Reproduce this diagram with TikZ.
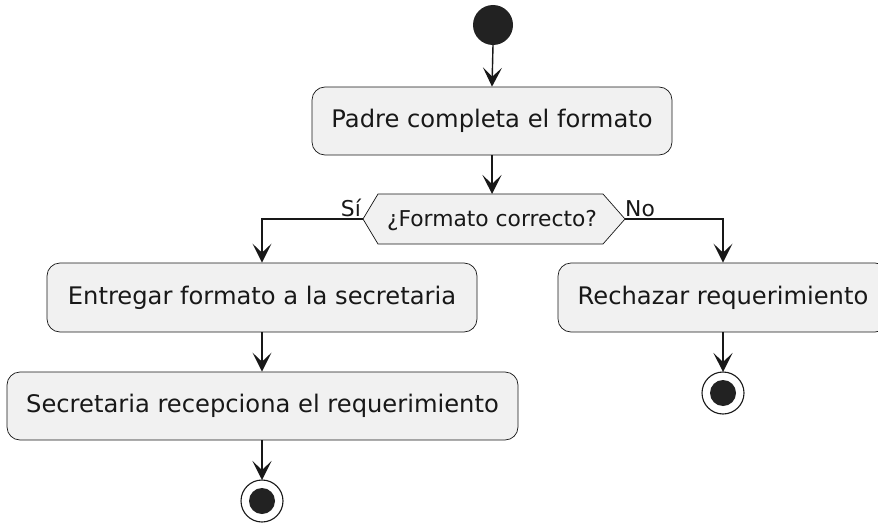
\documentclass[tikz,border=0pt]{standalone}
\usepackage{fontspec}
\setmainfont{DejaVu Sans}
\usetikzlibrary{arrows.meta}
\definecolor{boxfill}{HTML}{F1F1F1}
\definecolor{ln}{HTML}{181818}
\definecolor{dot}{HTML}{222222}
\begin{document}
\begin{tikzpicture}[x=1pt,y=-1pt,
  act/.style={draw=ln, fill=boxfill, rounded corners=13pt, line width=0.7pt,
    minimum height=68pt, inner sep=0pt, text=ln, font=\fontsize{24.2}{29}\selectfont},
  flow/.style={draw=ln, line width=1.4pt, -{Stealth[length=19pt,width=19pt,inset=9pt]}},
  lbl/.style={text=ln, inner sep=0pt, font=\fontsize{21.8}{26}\selectfont}]
\useasboundingbox (0,0) rectangle (878,527);
% start
\fill[dot] (493,25) circle (20pt);
\coordinate (st) at (493,45);
% activities
\node[act, minimum width=360pt] (a1) at (492,121) {Padre completa el formato};
\node[act, minimum width=430pt, minimum height=69pt] (a2) at (262,297.5) {Entregar formato a la secretaria};
\node[act, minimum width=511pt] (a3) at (262.5,406) {Secretaria recepciona el requerimiento};
\node[act, minimum width=330pt, minimum height=69pt] (a4) at (723,297.5) {Rechazar requerimiento};
% decision
\coordinate (dL) at (363,219);
\coordinate (dR) at (625,219);
\coordinate (dT) at (492,194);
\draw[ln, fill=boxfill, line width=0.7pt] (dL) -- (378,194) -- (603,194) -- (dR) -- (603,244) -- (378,244) -- cycle;
\node[lbl] (dtext) at (492,221) {¿Formato correcto?};
\node[lbl, anchor=south east] (si) at (361,217) {Sí};
\node[lbl, anchor=south west] (no) at (625,217) {No};
% ends
\draw[ln, fill=white, line width=1.1pt] (262,501) circle (21pt);
\fill[dot] (262,501) circle (13pt);
\coordinate (e1) at (262,480);
\draw[ln, fill=white, line width=1.1pt] (723,393) circle (21pt);
\fill[dot] (723,393) circle (13pt);
\coordinate (e2) at (723,372);
% connectors
\draw[flow] (st) -- (a1.north);
\draw[flow] (a1.south) -- (dT);
\draw[flow] (dL) -| (a2.north);
\draw[flow] (dR) -| (a4.north);
\draw[flow] (a2.south) -- (a3.north -| a2.south);
\draw[flow] (a3.south -| a2.south) -- (e1);
\draw[flow] (a4.south) -- (e2);
\end{tikzpicture}
\end{document}
